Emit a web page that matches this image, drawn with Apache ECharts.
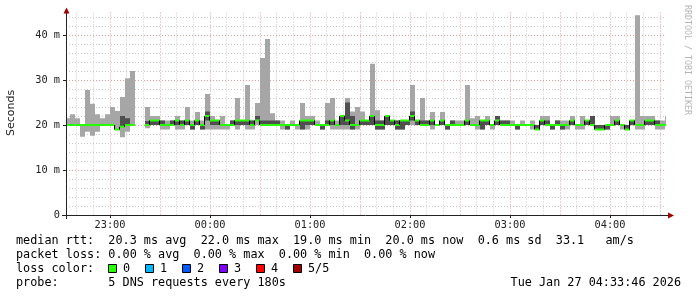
<!DOCTYPE html>
<html><head><meta charset="utf-8">
<script src="https://cdn.jsdelivr.net/npm/echarts@6/dist/echarts.min.js"></script>
<style>html,body{margin:0;padding:0;background:#fff}#c{width:697px;height:297px}</style>
</head><body><div id="c"></div>
<script>
// time axis: minutes after 22:00; each step is one 180 s probe round starting 22:33
const stepStartMinute = 33;
const stepMinutes = 3;
const viewStart = 33.6;   // 22:33:36
const viewEnd = 393.6;    // 04:33:36

// per-step ping distribution (ms): min, 2nd, median, 4th, max
const rttMin = [20,20,20,17.4,18.5,17.6,18.5,20,20,20,19,17.3,18.5,20,null,null,19.3,20,20,19,
19,20,19,19,20,19,20,19,19,19,19,19,19,20,19,20,19,19,20,20,
20,20,20,19,19,20,19,19,19,20,20,19,20,19,19,19,19,19,19,20,
20,20,19,19,20,20,19,19,20,20,20,20,20,19,20,20,19,20,20,20,
20,20,19,19,20,19,20,20,20,20,19,20,20,19,19,20,20,19,20,19,
19,20,19,19,20,20,19,19,19,20,20,19,19,20,19,19,20,20,19,19,20];
const rttLow = [20,20,20,20,20,20,20,20,20,20,19,19.6,20,20,null,null,20,20,20,20,
20,20,20,20,20,19,20,19,21,20,20,20,20,20,20,20,20,20,21,20,
20,20,20,20,19,20,20,19,20,20,20,19,20,20,20,20,20,19,20,20,
20,20,19,19,20,20,19,19,20,21,20,20,20,20,20,20,19,20,20,20,
20,20,20,19,20,20,20,20,20,20,19,20,20,20,19,20,20,19,20,19,
20,20,20,20,20,20,19,19,19,20,20,20,19,20,20,20,20,20,20,20,20];
const rttMedian = [20,20,20,20,20,20,20,20,20,20,19,19.6,20,20,null,null,20,21,21,20,
20,20,21,20,21,20,21,20,22,21,21,20,20,20,21,21,21,20,21,20,
20,20,20,20,20,20,20,21,21,21,20,20,20,21,20,22,21,20,20,21,
21,22,20,20,22,21,20,21,21,22,21,20,20,21,20,21,20,20,20,20,
21,20,20,21,21,20,21,20,20,20,20,20,20,20,19,21,20,20,20,20,
20,21,20,20,21,20,19,19,20,20,21,20,19,21,20,20,21,21,20,20,20];
const rttHigh = [20,20,20,20,20,20,20,20,20,20,19,22,21.5,20,null,null,20.9,21,21,21,
20,21,21,21,21,20,21,20,23,21,21,20,20,21,21,21,21,21,22,21,
21,21,21,20,20,20,20,21,21,21,20,20,21,21,20,22,25,22,20,21,
21,22,21,21,22,21,21,21,21,23,21,21,21,21,20,21,20,21,20,20,
21,20,20,21,21,20,22,21,21,20,20,20,20,20,20,21,21,20,21,20,
20,21,20,20,21,22,20,20,20,20,21,20,20,21,20,20,21,21,21,20,20];
const rttMax = [21.5,22.4,21.5,20,27.8,24.7,22.4,21.5,22.4,24,23.1,26.2,30.4,32,null,null,24,22,22,21,
21,21,22,21,24,21,22.9,21,26.9,22,21,22,20,21,26,21,28.9,21,24.9,34.9,
39.1,22.6,21,21,20,21,20,24.9,22,22,21,20,24.9,26,21,22,26,23,24,23,
21,33.6,23.3,21,22,21,21,21,21,28.9,21,26,21,22.9,20,22.9,20,21,21,21,
28.9,21.5,22,21,22,20,22,21,21,21,20,21,20,21,20,22,22,20,21,21,
21,22,20,22,21,22,20,20,20,22,22,20,20,21,44.4,22,22,22,21,21,22];

const hourTicks = [60,120,180,240,300,360];
const halfHourTicks = [60,90,120,150,180,210,240,270,300,330,360,390];
const tenMinTicks = [40,50,70,80,100,110,130,140,160,170,190,200,220,230,250,260,280,290,310,320,340,350,370,380];
const yLabelTicks = [0,10,20,30,40];
const yMajorTicks = [10,20,30,40];
const yMinorTicks = [2,4,6,8,12,14,16,18,22,24,26,28,32,34,36,38,42,44];

const legendLines = [
  'median rtt:  20.3 ms avg  22.0 ms max  19.0 ms min  20.0 ms now  0.6 ms sd  33.1   am/s',
  'packet loss: 0.00 % avg  0.00 % max  0.00 % min  0.00 % now',
  'loss color:',
  'probe:       5 DNS requests every 180s'
];
const lossLabels = ['0','1','2','3','4','5/5'];
const lossColors = ['#26ff00','#00b8ff','#0059ff','#7e00ff','#ff0000','#a00000'];
const stampText = 'Tue Jan 27 04:33:46 2026';

const seriesData = [];
rttMedian.forEach((m, i) => {
  if (m == null) return;
  const prev = i > 0 ? rttMedian[i - 1] : null;
  seriesData.push([stepStartMinute + i * stepMinutes, rttMin[i], rttLow[i], m, rttHigh[i], rttMax[i], prev == null ? -1 : prev]);
});

const mono = 'DejaVu Sans Mono';
const hourFmt = v => { const h = (22 + Math.round(v / 60)) % 24; return String(h).padStart(2, '0') + ':00'; };

function gridAxisX(ticks, color) {
  return { type: 'value', min: viewStart, max: viewEnd, gridIndex: 0,
    axisLine: { show: false }, axisLabel: { show: false },
    axisTick: { show: false, customValues: ticks },
    splitLine: { show: true, lineStyle: { color: color, width: 1, type: [1, 2] } } };
}
function gridAxisY(ticks, color) {
  return { type: 'value', min: 0, max: 45, gridIndex: 0,
    axisLine: { show: false }, axisLabel: { show: false },
    axisTick: { show: false, customValues: ticks },
    splitLine: { show: true, lineStyle: { color: color, width: 1, type: [1, 2] } } };
}

const graphics = [];
// axis lines and arrows
graphics.push({ type: 'line', shape: { x1: 62, y1: 215.5, x2: 669, y2: 215.5 }, style: { stroke: '#222', lineWidth: 1 }, z: 50 });
graphics.push({ type: 'line', shape: { x1: 66.5, y1: 11, x2: 66.5, y2: 219 }, style: { stroke: '#222', lineWidth: 1 }, z: 50 });
graphics.push({ type: 'polygon', shape: { points: [[668, 212.5], [668, 218.5], [674, 215.5]] }, style: { fill: '#a00000' }, z: 51 });
graphics.push({ type: 'polygon', shape: { points: [[63.5, 13.5], [69.5, 13.5], [66.5, 7.5]] }, style: { fill: '#a00000' }, z: 51 });
// y axis title
graphics.push({ type: 'text', x: 11, y: 113, rotation: Math.PI / 2,
  style: { text: 'Seconds', font: '11px "DejaVu Sans"', fill: '#222', textAlign: 'center', textVerticalAlign: 'middle' } });
// watermark
graphics.push({ type: 'text', x: 687, y: 5, rotation: -Math.PI / 2,
  style: { text: 'RRDTOOL / TOBI OETIKER', font: '8.3px "DejaVu Sans Mono"', fill: '#b4b4b4', textAlign: 'left', textVerticalAlign: 'middle' } });
// legend rows
const rowY = [241, 255, 269, 283];
legendLines.forEach((t, i) => {
  graphics.push({ type: 'text', x: 16, y: rowY[i], style: { text: t, font: '11.8px "DejaVu Sans Mono"', fill: '#000', textVerticalAlign: 'middle' } });
});
lossLabels.forEach((lab, i) => {
  const bx = 108 + i * 37;
  graphics.push({ type: 'rect', shape: { x: bx + 0.5, y: rowY[2] - 4.5, width: 8, height: 8 }, style: { fill: lossColors[i], stroke: '#000', lineWidth: 1 } });
  graphics.push({ type: 'text', x: bx + 15, y: rowY[2], style: { text: lab, font: '11.8px "DejaVu Sans Mono"', fill: '#000', textVerticalAlign: 'middle' } });
});
graphics.push({ type: 'text', x: 681, y: rowY[3], style: { text: stampText, font: '11.8px "DejaVu Sans Mono"', fill: '#000', textAlign: 'right', textVerticalAlign: 'middle' } });

const option = {
  backgroundColor: '#ffffff',
  animation: false,
  grid: { left: 66, top: 12.5, width: 600, height: 202.5, containLabel: false, outerBoundsMode: 'none' },
  xAxis: [
    { type: 'value', min: viewStart, max: viewEnd, gridIndex: 0,
      axisLine: { show: false },
      axisTick: { show: true, customValues: hourTicks, length: 3, lineStyle: { color: '#222' } },
      axisLabel: { customValues: hourTicks, formatter: hourFmt, fontFamily: mono, fontSize: 10.3, color: '#222', margin: 5 },
      splitLine: { show: false } },
    gridAxisX(tenMinTicks, '#c8c8c8'),
    gridAxisX(halfHourTicks, '#e49a9a')
  ],
  yAxis: [
    { type: 'value', min: 0, max: 45, gridIndex: 0,
      axisLine: { show: false },
      axisTick: { show: true, customValues: yLabelTicks, length: 3, lineStyle: { color: '#222' } },
      axisLabel: { customValues: yLabelTicks, formatter: v => v === 0 ? '0' : v + ' m', fontFamily: mono, fontSize: 10.3, color: '#222', margin: 6 },
      splitLine: { show: false } },
    gridAxisY(yMinorTicks, '#c8c8c8'),
    gridAxisY(yMajorTicks, '#e49a9a')
  ],
  series: [{
    type: 'custom', xAxisIndex: 0, yAxisIndex: 0, clip: true, z: 5,
    data: seriesData,
    renderItem: function (params, api) {
      const t = api.value(0);
      const x0 = api.coord([t, 0])[0];
      const x1 = api.coord([t + stepMinutes, 0])[0];
      const yv = v => api.coord([t, v])[1];
      const lo = api.value(1), dlo = api.value(2), med = api.value(3), dhi = api.value(4), hi = api.value(5), prev = api.value(6);
      const ch = [];
      ch.push({ type: 'rect', shape: { x: x0, y: yv(hi), width: x1 - x0, height: yv(lo) - yv(hi) }, style: { fill: '#a6a6a6' } });
      if (dhi > dlo) ch.push({ type: 'rect', shape: { x: x0, y: yv(dhi), width: x1 - x0, height: yv(dlo) - yv(dhi) }, style: { fill: '#4f4f4f' } });
      ch.push({ type: 'rect', shape: { x: x0, y: yv(med) - 1, width: x1 - x0, height: 2 }, style: { fill: '#26ff00' } });
      if (prev > 0 && prev !== med) {
        ch.push({ type: 'line', shape: { x1: x0 - 0.5, y1: yv(prev), x2: x0 - 0.5, y2: yv(med) }, style: { stroke: '#000', lineWidth: 1 } });
      }
      return { type: 'group', children: ch };
    }
  }],
  graphic: graphics
};

const chart = echarts.init(document.getElementById('c'), null, { renderer: 'canvas', width: 697, height: 297 });
chart.setOption(option);
</script>
</body></html>
